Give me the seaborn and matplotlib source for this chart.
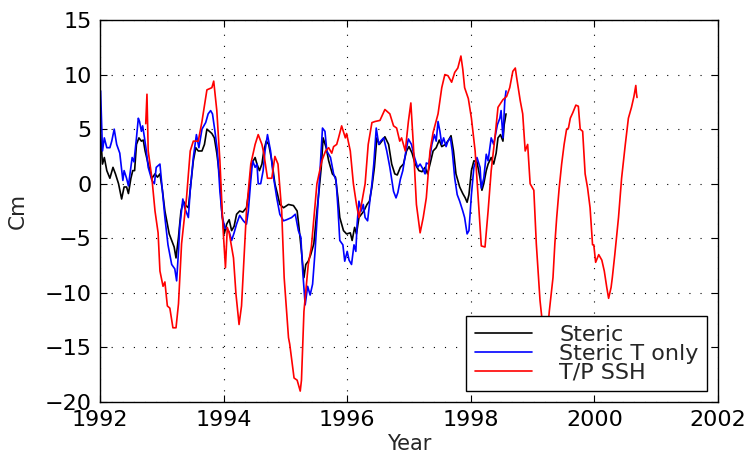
import matplotlib
matplotlib.use("Agg")
import matplotlib.pyplot as plt
import seaborn as sns
import pandas as pd

# ---- data ----
ssh_year = [1992.74, 1992.76, 1992.78, 1992.84, 1992.89, 1992.94, 1992.97, 1993.02, 1993.05, 1993.09,
            1993.13, 1993.18, 1993.23, 1993.27, 1993.32, 1993.40, 1993.46, 1993.51, 1993.59, 1993.65,
            1993.73, 1993.81, 1993.84, 1993.89, 1993.94, 1993.99, 1994.03, 1994.06, 1994.09, 1994.13,
            1994.16, 1994.20, 1994.25, 1994.29, 1994.32, 1994.37, 1994.44, 1994.51, 1994.56, 1994.62,
            1994.65, 1994.71, 1994.78, 1994.83, 1994.88, 1994.94, 1994.98, 1995.05, 1995.07, 1995.14,
            1995.19, 1995.24, 1995.26, 1995.30, 1995.37, 1995.42, 1995.51, 1995.59, 1995.65, 1995.70,
            1995.75, 1995.78, 1995.83, 1995.86, 1995.91, 1995.97, 1995.99, 1996.05, 1996.10, 1996.15,
            1996.19, 1996.23, 1996.29, 1996.34, 1996.40, 1996.45, 1996.53, 1996.61, 1996.69, 1996.75,
            1996.80, 1996.85, 1996.88, 1996.94, 1996.99, 1997.03, 1997.07, 1997.12, 1997.18, 1997.23,
            1997.28, 1997.34, 1997.39, 1997.47, 1997.53, 1997.58, 1997.63, 1997.69, 1997.74, 1997.79,
            1997.84, 1997.87, 1997.90, 1997.96, 1998.01, 1998.07, 1998.12, 1998.17, 1998.23, 1998.28,
            1998.33, 1998.39, 1998.44, 1998.52, 1998.58, 1998.63, 1998.68, 1998.72, 1998.74, 1998.80,
            1998.84, 1998.88, 1998.92, 1998.96, 1999.02, 1999.06, 1999.12, 1999.15, 1999.20, 1999.25,
            1999.27, 1999.33, 1999.36, 1999.39, 1999.43, 1999.47, 1999.51, 1999.55, 1999.58, 1999.61,
            1999.65, 1999.70, 1999.74, 1999.77, 1999.81, 1999.85, 1999.89, 1999.93, 1999.97, 1999.99,
            2000.02, 2000.07, 2000.12, 2000.16, 2000.20, 2000.23, 2000.27, 2000.29, 2000.33, 2000.39,
            2000.44, 2000.50, 2000.55, 2000.60, 2000.64, 2000.67, 2000.68, 2000.69]
ssh_cm = [5.5, 8.2, 3.0, 0.5, -2.5, -4.5, -8.0, -9.4, -9.0, -11.2,
          -11.4, -13.2, -13.2, -11.0, -5.5, -1.3, 3.0, 3.9, 3.9, 5.7,
          8.6, 8.8, 9.4, 6.7, 2.1, -4.0, -7.7, -4.0, -4.5, -5.8,
          -6.8, -10.1, -12.9, -11.2, -8.0, -2.5, 1.8, 3.6, 4.5, 3.6,
          2.8, 0.5, 0.5, 2.5, 1.8, -2.5, -8.6, -14.1, -14.7, -17.8,
          -18.0, -19.0, -18.0, -11.7, -7.4, -5.8, 0.0, 2.1, 3.0, 3.3,
          2.8, 3.4, 3.6, 4.2, 5.3, 4.2, 4.6, 3.0, 0.0, -1.9,
          -3.1, -1.9, 0.0, 3.6, 5.6, 5.7, 5.8, 6.8, 6.4, 5.3,
          5.1, 3.9, 4.2, 3.0, 5.7, 7.4, 3.6, -1.9, -4.5, -3.1,
          -1.3, 3.0, 4.7, 6.4, 8.8, 10.0, 9.9, 9.3, 10.2, 10.6,
          11.7, 10.5, 8.8, 7.8, 6.0, 3.0, -1.3, -5.7, -5.8, -2.5,
          1.2, 4.2, 7.0, 7.7, 8.0, 8.8, 10.3, 10.6, 9.8, 7.6,
          6.4, 3.0, 3.6, 0.0, -0.6, -5.5, -10.7, -12.3, -14.5, -13.0,
          -11.7, -8.6, -5.5, -3.1, -0.4, 1.8, 3.6, 5.0, 5.1, 6.0,
          6.5, 7.2, 7.1, 5.0, 4.8, 0.9, -0.4, -2.2, -5.6, -5.6,
          -7.2, -6.5, -7.0, -8.0, -9.5, -10.5, -9.5, -8.6, -6.5, -3.1,
          0.5, 3.6, 6.0, 7.0, 8.0, 9.0, 8.3, 7.9]

tonly_year = [1992.01, 1992.04, 1992.07, 1992.11, 1992.16, 1992.19, 1992.23, 1992.27, 1992.32, 1992.37,
              1992.39, 1992.43, 1992.46, 1992.50, 1992.52, 1992.55, 1992.59, 1992.62, 1992.64, 1992.67,
              1992.69, 1992.72, 1992.75, 1992.78, 1992.84, 1992.88, 1992.91, 1992.97, 1993.00, 1993.05,
              1993.10, 1993.16, 1993.21, 1993.24, 1993.27, 1993.29, 1993.34, 1993.37, 1993.43, 1993.46,
              1993.51, 1993.56, 1993.60, 1993.65, 1993.71, 1993.75, 1993.79, 1993.82, 1993.86, 1993.90,
              1993.94, 1993.98, 1994.02, 1994.09, 1994.13, 1994.17, 1994.21, 1994.26, 1994.32, 1994.37,
              1994.40, 1994.44, 1994.47, 1994.51, 1994.54, 1994.56, 1994.60, 1994.64, 1994.67, 1994.71,
              1994.76, 1994.80, 1994.86, 1994.91, 1994.97, 1995.02, 1995.10, 1995.16, 1995.21, 1995.25,
              1995.28, 1995.32, 1995.36, 1995.40, 1995.44, 1995.48, 1995.52, 1995.56, 1995.60, 1995.64,
              1995.67, 1995.73, 1995.78, 1995.82, 1995.85, 1995.88, 1995.93, 1995.96, 1996.00, 1996.03,
              1996.07, 1996.11, 1996.14, 1996.16, 1996.19, 1996.23, 1996.26, 1996.29, 1996.33, 1996.36,
              1996.40, 1996.43, 1996.47, 1996.51, 1996.54, 1996.59, 1996.64, 1996.69, 1996.75, 1996.79,
              1996.82, 1996.86, 1996.90, 1996.95, 1996.99, 1997.04, 1997.09, 1997.14, 1997.18, 1997.22,
              1997.26, 1997.28, 1997.32, 1997.37, 1997.41, 1997.44, 1997.47, 1997.50, 1997.53, 1997.56,
              1997.60, 1997.63, 1997.67, 1997.70, 1997.74, 1997.78, 1997.82, 1997.87, 1997.90, 1997.94,
              1997.97, 1998.01, 1998.05, 1998.10, 1998.15, 1998.17, 1998.21, 1998.25, 1998.28, 1998.33,
              1998.37, 1998.40, 1998.43, 1998.47, 1998.49, 1998.52, 1998.55, 1998.57]
tonly_cm = [8.5, 3.0, 4.2, 3.3, 3.3, 3.9, 5.0, 3.6, 2.8, 0.3,
            1.2, 0.5, -0.2, 1.5, 2.4, 2.0, 4.2, 6.0, 5.7, 4.8,
            5.3, 4.2, 3.0, 1.5, 0.3, 0.0, 1.5, 1.8, 0.0, -3.1,
            -5.6, -7.4, -7.8, -8.9, -6.2, -4.0, -1.4, -2.2, -3.1, -0.6,
            2.4, 4.5, 3.3, 5.0, 5.6, 6.4, 6.7, 6.4, 4.8, 3.0,
            -0.7, -3.1, -4.0, -4.4, -5.2, -4.5, -3.7, -2.9, -3.4, -3.7,
            -2.5, 0.3, 2.1, 1.5, 1.8, 0.0, 0.0, 1.2, 3.0, 4.5,
            3.0, 0.9, -1.3, -2.8, -3.4, -3.3, -3.1, -2.8, -4.3, -4.9,
            -8.0, -11.1, -9.4, -10.2, -9.2, -6.2, -2.5, 1.2, 5.1, 4.8,
            3.0, 2.4, 0.9, 0.3, -2.2, -5.2, -5.6, -7.1, -6.2, -7.0,
            -7.4, -5.6, -6.2, -3.7, -1.6, -2.5, -1.9, -3.1, -3.4, -1.9,
            0.0, 1.8, 5.1, 3.6, 3.9, 4.2, 3.0, 1.5, -0.7, -1.3,
            -0.8, 0.4, 1.2, 3.0, 4.1, 3.6, 2.4, 1.5, 1.8, 1.4,
            0.9, 1.9, 1.8, 3.6, 4.5, 3.9, 5.7, 4.8, 3.6, 4.2,
            3.4, 3.9, 4.2, 3.0, 0.5, -1.0, -1.6, -2.5, -3.1, -4.6,
            -4.3, -1.0, 1.5, 2.4, 1.5, -0.4, 0.5, 2.7, 2.1, 4.2,
            3.6, 4.5, 5.4, 6.0, 6.7, 4.2, 7.6, 8.5]

steric_year = [1992.01, 1992.04, 1992.07, 1992.11, 1992.16, 1992.21, 1992.25, 1992.30, 1992.35, 1992.39,
               1992.43, 1992.46, 1992.50, 1992.53, 1992.56, 1992.59, 1992.63, 1992.67, 1992.70, 1992.73,
               1992.78, 1992.84, 1992.89, 1992.93, 1992.97, 1993.01, 1993.05, 1993.09, 1993.12, 1993.16,
               1993.20, 1993.23, 1993.27, 1993.31, 1993.35, 1993.39, 1993.43, 1993.47, 1993.51, 1993.55,
               1993.59, 1993.65, 1993.69, 1993.73, 1993.77, 1993.81, 1993.85, 1993.89, 1993.94, 1993.97,
               1994.01, 1994.05, 1994.09, 1994.13, 1994.17, 1994.21, 1994.26, 1994.31, 1994.37, 1994.42,
               1994.45, 1994.51, 1994.54, 1994.58, 1994.62, 1994.65, 1994.69, 1994.73, 1994.78, 1994.83,
               1994.87, 1994.91, 1994.97, 1995.05, 1995.13, 1995.19, 1995.22, 1995.26, 1995.30, 1995.33,
               1995.37, 1995.41, 1995.46, 1995.50, 1995.55, 1995.58, 1995.61, 1995.66, 1995.70, 1995.76,
               1995.81, 1995.85, 1995.88, 1995.94, 1995.99, 1996.05, 1996.08, 1996.12, 1996.15, 1996.19,
               1996.23, 1996.27, 1996.32, 1996.36, 1996.40, 1996.44, 1996.48, 1996.52, 1996.56, 1996.61,
               1996.67, 1996.72, 1996.77, 1996.81, 1996.86, 1996.91, 1996.96, 1997.00, 1997.05, 1997.10,
               1997.16, 1997.21, 1997.26, 1997.30, 1997.34, 1997.39, 1997.44, 1997.49, 1997.53, 1997.59,
               1997.64, 1997.68, 1997.72, 1997.76, 1997.82, 1997.87, 1997.91, 1997.94, 1997.97, 1998.01,
               1998.05, 1998.10, 1998.15, 1998.18, 1998.21, 1998.25, 1998.28, 1998.33, 1998.37, 1998.41,
               1998.44, 1998.48, 1998.52, 1998.54, 1998.57]
steric_cm = [4.5, 1.8, 2.4, 1.2, 0.5, 1.5, 0.9, 0.0, -1.4, -0.3,
             -0.3, -0.9, 0.5, 1.2, 1.2, 3.6, 4.2, 3.9, 4.0, 3.0,
             1.8, 0.5, 0.9, 0.6, 0.9, -0.6, -2.5, -3.7, -4.6, -5.2,
             -5.8, -6.8, -4.9, -2.5, -1.6, -2.0, -2.2, 0.0, 2.1, 3.3,
             3.0, 3.0, 3.6, 5.0, 4.8, 4.6, 4.2, 2.8, 0.5, -2.5,
             -4.6, -3.7, -3.3, -4.3, -3.9, -2.8, -2.5, -2.6, -2.2, -0.3,
             1.8, 2.4, 1.8, 1.2, 1.8, 3.0, 3.9, 3.6, 2.1, 0.0,
             -0.9, -1.9, -2.2, -1.9, -2.0, -2.5, -4.0, -6.2, -8.6, -7.4,
             -7.1, -6.5, -5.5, -3.1, -0.3, 1.5, 4.2, 3.3, 2.1, 0.9,
             0.6, -1.3, -3.1, -4.3, -4.6, -4.5, -5.2, -4.0, -4.6, -3.1,
             -2.8, -2.5, -1.9, -1.6, -0.3, 1.5, 4.2, 3.6, 3.9, 4.3,
             3.6, 1.8, 0.9, 0.8, 1.5, 1.8, 3.0, 3.4, 2.8, 1.8,
             1.2, 1.1, 1.5, 0.9, 1.8, 3.0, 3.3, 4.0, 3.4, 3.6,
             4.0, 4.4, 3.0, 0.9, -0.3, -0.9, -1.3, -1.7, -1.0, 1.2,
             2.1, 2.0, 0.5, -0.6, 0.0, 1.2, 1.8, 2.4, 1.8, 2.8,
             4.2, 4.5, 3.9, 5.4, 6.4]

labels = ["Steric", "Steric T only", "T/P SSH"]
colors = ["black", "blue", "red"]

# ---- figure ----
sns.set_theme(style="white")
plt.rcParams["font.family"] = ["DejaVu Sans"]
plt.rcParams["axes.unicode_minus"] = True

fig = plt.figure(figsize=(7.5, 4.54), dpi=100)
ax = fig.add_axes([100 / 750, 1 - 402 / 454, 618 / 750, 382 / 454])

series = [(steric_year, steric_cm), (tonly_year, tonly_cm), (ssh_year, ssh_cm)]
for (yr, cm), lab, col in zip(series, labels, colors):
    df = pd.DataFrame({"Year": yr, "Cm": cm})
    sns.lineplot(data=df, x="Year", y="Cm", ax=ax, color=col, label=lab,
                 linewidth=1.2, sort=False, estimator=None)

ax.set_xlim(1992, 2002)
ax.set_ylim(-20, 15)
ax.set_xticks(range(1992, 2003, 2))
ax.set_yticks(range(-20, 16, 5))
ax.grid(True, color="black", linestyle=(0, (1, 9)), linewidth=0.8)
ax.tick_params(direction="in", length=5, width=0.8, labelsize=16,
               top=True, right=True, bottom=True, left=True, colors="black", pad=6)
for s in ax.spines.values():
    s.set_color("black")
    s.set_linewidth(1.0)
ax.set_xlabel("Year", fontsize=15, labelpad=2.5)
ax.set_ylabel("Cm", fontsize=15.5, labelpad=12)

leg = ax.legend(loc="lower right", fontsize=16, frameon=True, fancybox=False,
                edgecolor="black", framealpha=1, handlelength=2.6, borderaxespad=0.5,
                labelspacing=-0.05, borderpad=0.38, handletextpad=1.2)
leg.get_frame().set_linewidth(1.0)

fig.savefig("out.png", dpi=100)
